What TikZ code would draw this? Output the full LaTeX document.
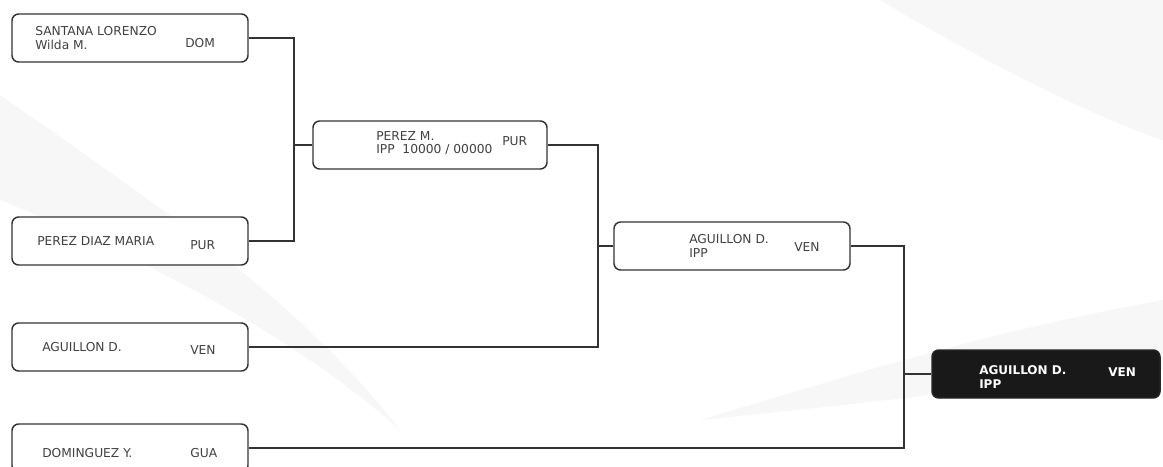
\documentclass[tikz,border=0pt]{standalone}
\usepackage{fontspec}
\setmainfont{DejaVu Sans}
\begin{document}
\begin{tikzpicture}[x=0.75pt,y=-0.75pt,
  box/.style={draw=black!80,line width=1.1pt,rounded corners=5pt,fill=white,minimum height=36pt,inner sep=0pt},
  win/.style={draw=black!85,line width=1.1pt,rounded corners=5pt,fill=black!90,minimum height=36pt,inner sep=0pt},
  txt/.style={anchor=west,inner sep=0pt,text=black!75,font=\fontsize{9.2}{9.9}\selectfont,align=left},
  wtxt/.style={anchor=west,inner sep=0pt,text=white,font=\bfseries\fontsize{9}{9.9}\selectfont,align=left},
  conn/.style={draw=black!80,line width=1pt}]
\useasboundingbox[fill=white] (0,0) rectangle (1163,467);
\clip (0,0) rectangle (1163,467);
% faint background swooshes
\fill[black!3] (0,95) .. controls (150,200) and (300,300) .. (400,430) .. controls (300,340) and (150,260) .. (0,200) -- cycle;
\fill[black!3] (880,0) .. controls (980,60) and (1100,120) .. (1163,140) -- (1163,0) -- cycle;
\fill[black!3] (1163,300) .. controls (1000,330) and (900,360) .. (700,420) .. controls (900,400) and (1050,380) .. (1163,370) -- cycle;
% boxes
\node[box,minimum width=177pt] (b1) at (130,38) {};
\node[box,minimum width=177pt] (b2) at (130,241) {};
\node[box,minimum width=177pt] (b3) at (130,347) {};
\node[box,minimum width=177pt] (b4) at (130,448) {};
\node[box,minimum width=175.5pt] (b5) at (430,145) {};
\node[box,minimum width=177pt] (b6) at (732,246) {};
\node[win,minimum width=171pt] (b7) at (1046,374) {};
% texts
\node[txt] (t1) at (35,38) {SANTANA LORENZO\\Wilda M.};
\node[txt] (t1c) at (185,43) {DOM};
\node[txt] (t2) at (37,241) {PEREZ DIAZ MARIA};
\node[txt] (t2c) at (190,245) {PUR};
\node[txt] (t3) at (42,347) {AGUILLON D.};
\node[txt] (t3c) at (190,350) {VEN};
\node[txt] (t4) at (42,453) {DOMINGUEZ Y.};
\node[txt] (t4c) at (190,453) {GUA};
\node[txt] (t5) at (376,143) {PEREZ M.\\IPP\ \ 10000 / 00000};
\node[txt] (t5c) at (502,141) {PUR};
\node[txt] (t6) at (689,246) {AGUILLON D.\\IPP};
\node[txt] (t6c) at (794,247) {VEN};
\node[wtxt] (t7) at (979,377) {AGUILLON D.\\IPP};
\node[wtxt] (t7c) at (1108,372) {VEN};
% connectors
\coordinate (j1) at (294,145);
\coordinate (j2) at (598,246);
\coordinate (j3) at (904,374);
\draw[conn] (b1.east) -| (j1) |- (b2.east);
\draw[conn] (j1) -- (b5.west);
\draw[conn] (b5.east) -| (j2) |- (b3.east);
\draw[conn] (j2) -- (b6.west);
\draw[conn] (b6.east) -| (j3) |- (b4.east);
\draw[conn] (j3) -- (b7.west);
\end{tikzpicture}
\end{document}
